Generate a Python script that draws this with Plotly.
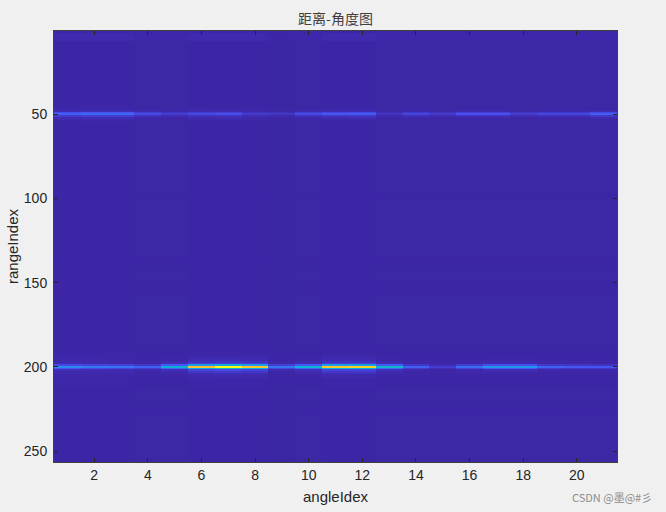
import numpy as np
import plotly.graph_objects as go

angle_index = list(range(1, 22))
range_index = list(range(1, 257))

# values, one per angle column
peak_row_50 = [.12, .14, .14, .08, .05, .07, .08, .04, .04, .08, .10, .11, .035, .07, .045, .09, .09, .05, .07, .07, .12]
peak_row_200 = [.22, .18, .17, .13, .34, .84, 1.0, .86, .18, .36, .86, .88, .38, .13, .05, .16, .27, .27, .13, .11, .10]
background = [.025, .025, .025, .02, .02, .025, .025, .025, .018, .02, .025, .025, .02, .02, .02, .02, .02, .02, .02, .02, .02]

# how much of a column's peak spreads to the rows beside it
spread_rows = [-6, -5, -4, -3, -2, -1, 0, 1, 2, 3, 4, 5, 6]
spread_row_50 = [.0, .01, .02, .04, .1, .6, 1.0, .35, .1, .04, .02, .01, .0]
spread_row_200 = [.006, .01, .015, .03, .06, .32, 1.0, .4, .07, .04, .02, .01, .006]

# faint horizontal bands: first row, last row, level
bands = [(2, 6, .012), (48, 53, .006), (97, 98, .004), (136, 139, .004), (150, 156, .003),
         (190, 212, .005), (224, 228, .004)]

z = np.tile(np.array(background), (len(range_index), 1))
for first, last, level in bands:
    z[first - 1:last, :] += level
for col in range(len(angle_index)):
    for i, off in enumerate(spread_rows):
        z[49 + off, col] += peak_row_50[col] * spread_row_50[i]
        z[199 + off, col] += peak_row_200[col] * spread_row_200[i]

parula = [[0, '#37289c'], [.03, '#3e26a8'], [.12, '#4852f4'], [.25, '#2b8af0'], [.38, '#07b5d5'],
          [.5, '#33b8a1'], [.62, '#97bf5c'], [.75, '#e3b93e'], [.87, '#fcc030'], [1, '#f9fb15']]

fig = go.Figure(go.Heatmap(x=angle_index, y=range_index, z=z, colorscale=parula, zmin=0, zmax=1, showscale=False))

axis_style = dict(showgrid=False, zeroline=False, showline=True, linecolor='#404040', linewidth=1, mirror='allticks',
                  ticks='inside', ticklen=4, tickwidth=1, tickcolor='#262626', automargin=False,
                  tickfont=dict(family='Liberation Sans', size=14, color='#262626'))

fig.update_layout(
    width=666, height=512,
    paper_bgcolor='#f0f0f0',
    plot_bgcolor='#3e26a8',
    margin=dict(l=54, r=49, t=31, b=50),
    title=dict(text='距离-角度图', font=dict(family='Noto Sans CJK SC', size=14, color='#404040'),
               x=(335.5 - 54) / 563, xanchor='center', xref='paper', y=1 - 19 / 512, yanchor='middle'),
    xaxis=dict(axis_style, range=[0.5, 21.5], tickvals=list(range(2, 21, 2)),
               title=dict(text='angleIdex', standoff=9, font=dict(family='Liberation Sans', size=15, color='#262626'))),
    yaxis=dict(axis_style, range=[256.5, 0.5], tickvals=[50, 100, 150, 200, 250], ticklabelstandoff=3,
               title=dict(text='rangeIndex', standoff=1, font=dict(family='Liberation Sans', size=15, color='#262626'))),
    annotations=[dict(text='CSDN @墨@#彡', x=(612 - 54) / 563, y=-(497 - 462) / 431, xref='paper', yref='paper',
                      showarrow=False, xanchor='center', yanchor='middle',
                      font=dict(family='Noto Sans CJK SC', size=11, color='#8c8c8c'))],
)

# page default margin would push the figure off by 8px
fig.write_html("out.html", config=dict(displayModeBar=False),
               post_script="document.body.style.margin='0';document.body.style.background='#f0f0f0';document.body.style.overflow='hidden';")
